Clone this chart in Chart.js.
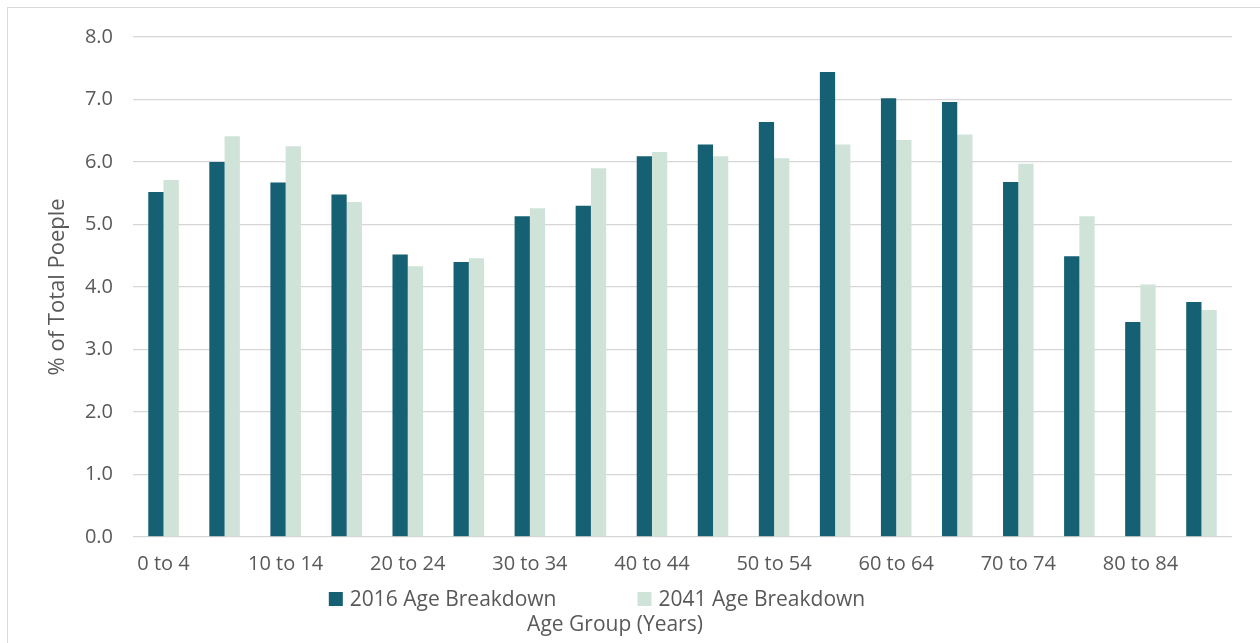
<!DOCTYPE html>
<html>
<head>
<meta charset="utf-8">
<script src="https://cdn.jsdelivr.net/npm/chart.js@4/dist/chart.umd.min.js"></script>
<style>
  html, body { margin: 0; padding: 0; background: #fff; overflow: hidden; }
  #wrap { position: relative; width: 1260px; height: 643px; }
  #frame { position: absolute; left: 7px; top: 7px; width: 1300px; height: 700px;
           border: 1px solid #d9d9d9; box-sizing: border-box; }
  canvas { position: absolute; left: 0; top: 0; }
</style>
</head>
<body>
<div id="wrap">
  <div id="frame"></div>
  <canvas id="c" width="1260" height="643"></canvas>
</div>
<script>
// Age groups (five-year bands)
const ageGroups = ['0 to 4', '5 to 9', '10 to 14', '15 to 19', '20 to 24', '25 to 29',
  '30 to 34', '35 to 39', '40 to 44', '45 to 49', '50 to 54', '55 to 59',
  '60 to 64', '65 to 69', '70 to 74', '75 to 79', '80 to 84', '85+'];

// Share of total population (%) per age group
const share2016 = [5.52, 6.00, 5.67, 5.48, 4.52, 4.40, 5.13, 5.30, 6.09,
  6.28, 6.64, 7.44, 7.02, 6.96, 5.68, 4.49, 3.44, 3.76];
const share2041 = [5.71, 6.41, 6.25, 5.36, 4.33, 4.46, 5.26, 5.90, 6.16,
  6.09, 6.06, 6.28, 6.35, 6.44, 5.97, 5.13, 4.04, 3.63];

const seriesNames = ['2016 Age Breakdown', '2041 Age Breakdown'];
const yTicks = [0, 1, 2, 3, 4, 5, 6, 7, 8];

const DARK = '#156072';
const LIGHT = '#cfe3d8';
const TEXT = '#595959';
const FONT = "'Open Sans', 'DejaVu Sans', sans-serif";

// Legend row drawn under the tick labels, centred on a fixed x
const legendRow = {
  id: 'legendRow',
  afterDraw(chart, args, opts) {
    const ctx = chart.ctx;
    ctx.save();
    ctx.font = `${opts.size}px ${FONT}`;
    ctx.textBaseline = 'middle';
    ctx.textAlign = 'left';
    const items = chart.data.datasets.map(ds => ({
      text: ds.label, color: ds.backgroundColor, w: ctx.measureText(ds.label).width
    }));
    const total = items.reduce((s, it) => s + opts.box + opts.gap + it.w, 0) + opts.spacing * (items.length - 1);
    let x = opts.centerX - total / 2;
    items.forEach(it => {
      ctx.fillStyle = it.color;
      ctx.fillRect(x, opts.centerY - opts.box / 2, opts.box, opts.box);
      x += opts.box + opts.gap;
      ctx.fillStyle = TEXT;
      ctx.fillText(it.text, x, opts.centerY + 1);
      x += it.w + opts.spacing;
    });
    ctx.restore();
  }
};

// Move the bottom title so it sits at its own horizontal centre
const titleShift = {
  id: 'titleShift',
  afterLayout(chart, args, opts) {
    const t = chart.titleBlock;
    if (!t) return;
    const dx = opts.centerX - (t.left + t.right) / 2;
    t.left += dx;
    t.right += dx;
  }
};

function draw() {
  new Chart(document.getElementById('c'), {
    type: 'bar',
    data: {
      labels: ageGroups,
      datasets: [
        { label: seriesNames[0], data: share2016, backgroundColor: DARK,
          borderWidth: 0, categoryPercentage: 0.5, barPercentage: 1.0 },
        { label: seriesNames[1], data: share2041, backgroundColor: LIGHT,
          borderWidth: 0, categoryPercentage: 0.5, barPercentage: 1.0 }
      ]
    },
    options: {
      responsive: false,
      animation: false,
      layout: { padding: { left: 45, right: 28, top: 37, bottom: 5 } },
      scales: {
        x: {
          grid: { display: false },
          border: { display: false },
          ticks: {
            autoSkip: false, maxRotation: 0, minRotation: 0, padding: 7,
            color: TEXT, font: { family: FONT, size: 20 },
            callback: (v, i) => (i % 2 === 0 ? ageGroups[i] : '')
          },
          afterFit(s) { s.height = 44; }
        },
        y: {
          min: 0, max: 8,
          afterBuildTicks(s) { s.ticks = yTicks.map(v => ({ value: v })); },
          grid: { color: '#d6d6d6', lineWidth: 1.3, drawTicks: false },
          border: { display: false },
          ticks: {
            padding: 20, color: TEXT, font: { family: FONT, size: 20 },
            callback: v => Number(v).toFixed(1)
          },
          title: {
            display: true, text: '% of Total Poeple', color: TEXT,
            font: { family: FONT, size: 22 }, padding: { top: 0, bottom: 0 }
          },
          afterFit(s) { s.width = 88; }
        }
      },
      plugins: {
        legend: { display: false },
        tooltip: { enabled: false },
        title: {
          display: true, position: 'bottom', text: 'Age Group (Years)',
          color: TEXT, font: { family: FONT, size: 21, weight: 'normal' },
          padding: { top: 32, bottom: 0 }
        },
        titleShift: { centerX: 615 },
        legendRow: { centerX: 597, centerY: 599, size: 21, box: 14, gap: 7, spacing: 81 }
      }
    },
    plugins: [titleShift, legendRow]
  });
}

Promise.all([
  document.fonts.load(`20px 'Open Sans'`),
  document.fonts.load(`22px 'Open Sans'`)
]).then(draw, draw);
</script>
</body>
</html>
